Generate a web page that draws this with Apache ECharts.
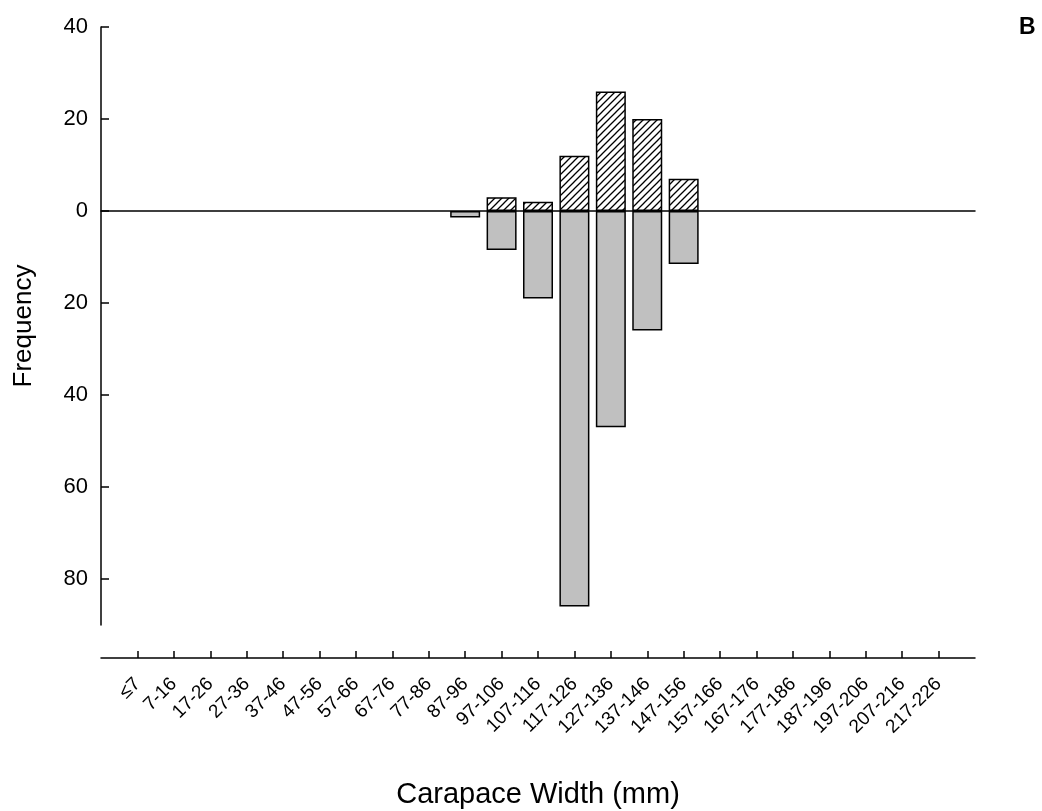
<!DOCTYPE html>
<html>
<head>
<meta charset="utf-8">
<script src="https://cdn.jsdelivr.net/npm/echarts@6/dist/echarts.min.js"></script>
<style>
html,body{margin:0;padding:0;background:#fff;}
#chart{width:1042px;height:811px;}
</style>
</head>
<body>
<div id="chart"></div>
<script>
// ---- data ----
const categories = ['≤7','7-16','17-26','27-36','37-46','47-56','57-66','67-76','77-86','87-96','97-106','107-116','117-126','127-136','137-146','147-156','157-166','167-176','177-186','187-196','197-206','207-216','217-226'];
// hatched bars (above zero)
const upperValues = [null,null,null,null,null,null,null,null,null,null,3,2,12,26,20,7,null,null,null,null,null,null,null];
// grey bars (below zero)
const lowerValues = [null,null,null,null,null,null,null,null,null,-1.4,-8.5,-19,-86,-47,-26,-11.5,null,null,null,null,null,null,null];
const yTicks = [-80,-60,-40,-20,0,20,40];

const FONT = '"Liberation Sans", Arial, sans-serif';
const axisCats = [''].concat(categories, ['']);
const pad = arr => [null].concat(arr, [null]);

// hatch pattern
const pc = document.createElement('canvas');
pc.width = 7; pc.height = 7;
const g = pc.getContext('2d');
g.fillStyle = '#fff'; g.fillRect(0,0,7,7);
g.strokeStyle = '#000'; g.lineWidth = 1.3;
g.beginPath();
g.moveTo(-1,8); g.lineTo(8,-1);
g.moveTo(-1,1); g.lineTo(1,-1);
g.moveTo(6,8); g.lineTo(8,6);
g.stroke();

const chart = echarts.init(document.getElementById('chart'), null, {renderer:'canvas'});
chart.setOption({
  animation: false,
  backgroundColor: '#fff',
  title: {
    text: 'B', left: 1014, top: 11,
    textStyle: {fontFamily: FONT, fontSize: 23, fontWeight: 'bold', color: '#000'}
  },
  grid: {left: 101, right: 67, top: 27, bottom: 186, containLabel: false, outerBoundsMode: 'none'},
  xAxis: [
    {
      type: 'category', data: axisCats, boundaryGap: false, z: 5,
      axisLine: {onZero: true, lineStyle: {color: '#000', width: 1.5}},
      axisTick: {show: false}, axisLabel: {show: false}, splitLine: {show: false}
    },
    {
      type: 'category', data: axisCats, boundaryGap: false, position: 'bottom', offset: 33,
      axisLine: {onZero: false, lineStyle: {color: '#000', width: 1.5}},
      axisTick: {show: true, inside: true, length: 7, lineStyle: {color: '#000', width: 1.5},
        interval: (i) => i > 0 && i < axisCats.length - 1},
      axisLabel: {interval: 0, rotate: 45, margin: 23, color: '#000', fontFamily: FONT, fontSize: 19},
      splitLine: {show: false},
      name: 'Carapace Width (mm)', nameLocation: 'middle', nameGap: 122,
      nameTextStyle: {fontFamily: FONT, fontSize: 29, color: '#000'}
    }
  ],
  yAxis: {
    type: 'value', min: -90, max: 40,
    axisLine: {show: true, lineStyle: {color: '#000', width: 1.5}},
    axisTick: {show: true, inside: true, length: 8, customValues: yTicks, lineStyle: {color: '#000', width: 1.5}},
    axisLabel: {customValues: yTicks, margin: 13, color: '#000', fontFamily: FONT, fontSize: 22,
      formatter: v => String(Math.abs(v))},
    splitLine: {show: false},
    name: 'Frequency', nameLocation: 'middle', nameGap: 64,
    nameTextStyle: {fontFamily: FONT, fontSize: 26, color: '#000'}
  },
  series: [
    {
      name: 'Upper', type: 'bar', xAxisIndex: 0, data: pad(upperValues),
      barWidth: 30, barGap: '-100%',
      itemStyle: {color: {image: pc, repeat: 'repeat'}, borderColor: '#000', borderWidth: 1.5}
    },
    {
      name: 'Lower', type: 'bar', xAxisIndex: 0, data: pad(lowerValues),
      barWidth: 30, barGap: '-100%',
      itemStyle: {color: '#c0c0c0', borderColor: '#000', borderWidth: 1.5}
    }
  ]
});
</script>
</body>
</html>
